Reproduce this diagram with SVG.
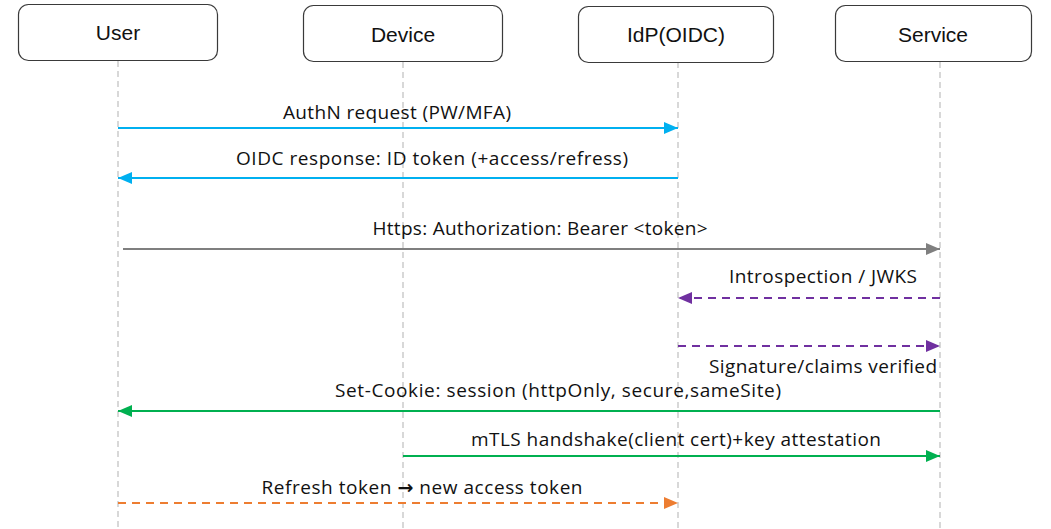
<svg xmlns="http://www.w3.org/2000/svg" width="1051" height="529" viewBox="0 0 1051 529">
  <defs>
    <style>
      .box { fill: #ffffff; stroke: #3a3a3a; stroke-width: 1.2; }
      .boxlabel { font-family: "Liberation Sans", Arial, sans-serif; font-size: 21px; fill: #111111; text-anchor: middle; }
      .life { stroke: #bfbfbf; stroke-width: 1.2; stroke-dasharray: 6 4; fill: none; }
      .msg { font-family: "Open Sans", "Liberation Sans", sans-serif; font-size: 19px; fill: #111111; text-anchor: middle; }
      .sym { font-family: "DejaVu Sans", sans-serif; font-weight: bold; }
      .line { fill: none; stroke-width: 2.2; }
      .cyan { stroke: #00b0f0; }
      .gray { stroke: #7f7f7f; }
      .purple { stroke: #7030a0; stroke-dasharray: 8 6; }
      .green { stroke: #00b050; }
      .orange { stroke: #ed7d31; stroke-dasharray: 8 6; }
    </style>
    <marker id="ah-cyan" viewBox="0 0 14 12" refX="14" refY="6" markerWidth="14" markerHeight="12" markerUnits="userSpaceOnUse" orient="auto">
      <path d="M0,0 L14,6 L0,12 Z" fill="#00b0f0"/>
    </marker>
    <marker id="ah-gray" viewBox="0 0 14 12" refX="14" refY="6" markerWidth="14" markerHeight="12" markerUnits="userSpaceOnUse" orient="auto">
      <path d="M0,0 L14,6 L0,12 Z" fill="#7f7f7f"/>
    </marker>
    <marker id="ah-purple" viewBox="0 0 14 12" refX="14" refY="6" markerWidth="14" markerHeight="12" markerUnits="userSpaceOnUse" orient="auto">
      <path d="M0,0 L14,6 L0,12 Z" fill="#7030a0"/>
    </marker>
    <marker id="ah-green" viewBox="0 0 14 12" refX="14" refY="6" markerWidth="14" markerHeight="12" markerUnits="userSpaceOnUse" orient="auto">
      <path d="M0,0 L14,6 L0,12 Z" fill="#00b050"/>
    </marker>
    <marker id="ah-orange" viewBox="0 0 14 12" refX="14" refY="6" markerWidth="14" markerHeight="12" markerUnits="userSpaceOnUse" orient="auto">
      <path d="M0,0 L14,6 L0,12 Z" fill="#ed7d31"/>
    </marker>
  </defs>

  <rect width="1051" height="529" fill="#ffffff"/>

  <!-- lifelines -->
  <g id="lifelines">
    <line class="life" x1="118" y1="61" x2="118" y2="529"/>
    <line class="life" x1="403" y1="62" x2="403" y2="529"/>
    <line class="life" x1="678" y1="62" x2="678" y2="529"/>
    <line class="life" x1="940" y1="62" x2="940" y2="529"/>
  </g>

  <!-- participants -->
  <g id="user">
    <rect class="box" x="18.5" y="4.5" width="199" height="56" rx="10"/>
    <text class="boxlabel" x="118" y="40">User</text>
  </g>
  <g id="device">
    <rect class="box" x="303.5" y="5.5" width="199" height="56" rx="10"/>
    <text class="boxlabel" x="403" y="42">Device</text>
  </g>
  <g id="idp">
    <rect class="box" x="578.5" y="6.5" width="195" height="56" rx="10"/>
    <text class="boxlabel" x="676" y="42">IdP(OIDC)</text>
  </g>
  <g id="service">
    <rect class="box" x="835.5" y="5.5" width="196" height="56" rx="10"/>
    <text class="boxlabel" x="933" y="42">Service</text>
  </g>

  <!-- messages -->
  <g id="connectors">
    <line class="line cyan" x1="118" y1="128" x2="678" y2="128" marker-end="url(#ah-cyan)"/>
    <line class="line cyan" x1="678" y1="178" x2="118" y2="178" marker-end="url(#ah-cyan)"/>
    <line class="line gray" x1="123" y1="249" x2="940" y2="249" marker-end="url(#ah-gray)"/>
    <line class="line purple" x1="940" y1="298" x2="678" y2="298" marker-end="url(#ah-purple)"/>
    <line class="line purple" x1="678" y1="346" x2="940" y2="346" marker-end="url(#ah-purple)"/>
    <line class="line green" x1="940" y1="411" x2="118" y2="411" marker-end="url(#ah-green)"/>
    <line class="line green" x1="403" y1="456" x2="940" y2="456" marker-end="url(#ah-green)"/>
    <line class="line orange" x1="118" y1="503" x2="678" y2="503" marker-end="url(#ah-orange)"/>
  </g>

  <g id="labels">
    <text class="msg" x="397" y="119" textLength="228">AuthN request (PW/MFA)</text>
    <text class="msg" x="432" y="165" textLength="392">OIDC response: ID token (+access/refress)</text>
    <text class="msg" x="540" y="235" textLength="335">Https: Authorization: Bearer &lt;token&gt;</text>
    <text class="msg" x="823" y="283" textLength="188">Introspection / JWKS</text>
    <text class="msg" x="823" y="373" textLength="228">Signature/claims verified</text>
    <text class="msg" x="558" y="397" textLength="446">Set-Cookie: session (httpOnly, secure,sameSite)</text>
    <text class="msg" x="676" y="446" textLength="410">mTLS handshake(client cert)+key attestation</text>
    <text class="msg" x="422" y="494" textLength="321">Refresh token <tspan class="sym">→</tspan> new access token</text>
  </g>
</svg>
